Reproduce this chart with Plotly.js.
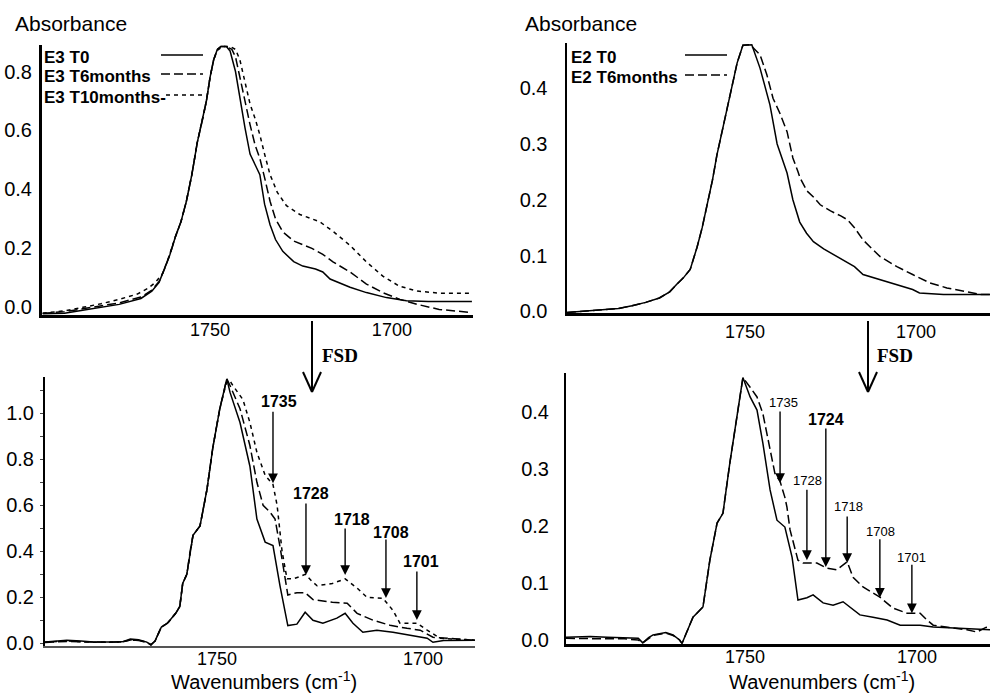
<!DOCTYPE html>
<html>
<head>
<meta charset="utf-8">
<script src="https://cdn.plot.ly/plotly-3.0.1.min.js"></script>
<style>html,body{margin:0;padding:0;background:#fff;}#chart{width:990px;height:694px;}</style>
</head>
<body>
<div id="chart"></div>
<script>
// ---------------- DATA (wavenumber cm-1 / absorbance) ----------------
// Top-left: E3 original spectra
const e3T0_x  = [1796,1790,1785,1780,1775,1769,1766,1764,1762.5,1761,1759.5,1758,1756.5,1755,1753.5,1752,1751,1750,1749,1748,1747,1745.5,1744.5,1743,1741.8,1740.4,1739,1737.5,1736.3,1735,1733.5,1732,1730,1727,1724.5,1721,1719,1717,1714,1711.5,1707,1701.5,1696,1690,1678];
const e3T0_y  = [-0.022,-0.02,-0.01,0.0,0.01,0.03,0.055,0.085,0.13,0.18,0.24,0.29,0.36,0.45,0.56,0.64,0.70,0.78,0.84,0.875,0.885,0.885,0.87,0.80,0.71,0.61,0.52,0.48,0.45,0.35,0.28,0.23,0.19,0.155,0.14,0.13,0.12,0.096,0.08,0.068,0.05,0.033,0.022,0.02,0.02];
const e3T6_x  = [1796,1790,1785,1780,1775,1769,1766,1764,1762.5,1761,1759.5,1758,1756.5,1755,1753.5,1752,1751,1750,1749,1748,1747,1745.5,1744,1743,1741.8,1740.4,1739,1737.6,1736.3,1735,1733.5,1732,1730,1727,1725,1722,1719,1716.2,1711.5,1707,1702.5,1697.8,1693,1687,1678];
const e3T6_y  = [-0.02,-0.015,-0.005,0.005,0.015,0.035,0.058,0.088,0.13,0.18,0.24,0.29,0.36,0.45,0.56,0.64,0.70,0.78,0.84,0.875,0.885,0.885,0.875,0.85,0.78,0.70,0.62,0.55,0.505,0.44,0.36,0.30,0.256,0.225,0.215,0.20,0.18,0.154,0.12,0.079,0.05,0.027,0.01,-0.007,-0.018];
const e3T10_x = [1796,1790,1785,1780,1775,1770,1767,1765,1763,1761.5,1759.5,1758,1756.5,1755,1753.5,1752,1751,1750,1749,1748,1746.5,1744.5,1743,1741.8,1740.4,1739,1737.6,1736.3,1735,1733.5,1731.5,1729,1725.3,1722,1719.8,1716,1711.5,1707,1702.5,1698,1693,1687,1678];
const e3T10_y = [-0.02,-0.012,0.0,0.012,0.027,0.045,0.065,0.085,0.115,0.165,0.24,0.29,0.36,0.45,0.56,0.64,0.70,0.78,0.84,0.872,0.885,0.885,0.875,0.84,0.77,0.69,0.64,0.585,0.52,0.45,0.39,0.345,0.315,0.30,0.29,0.256,0.21,0.154,0.106,0.072,0.055,0.048,0.048];

// Top-right: E2 original spectra
const e2T0_x = [1802,1797,1792,1787,1783,1779,1775,1772,1770,1768,1766,1764,1762.5,1761,1759.5,1758.2,1756.4,1754.4,1752.3,1750.6,1748,1745.6,1742.7,1740.6,1739.5,1737.7,1736,1734,1732,1730,1727,1725,1722,1720,1718,1715.5,1710.5,1705.6,1701,1699,1692,1678.4];
const e2T0_y = [-0.002,0.0,0.002,0.005,0.01,0.016,0.024,0.035,0.048,0.06,0.075,0.115,0.15,0.19,0.235,0.28,0.33,0.385,0.445,0.477,0.478,0.436,0.37,0.30,0.28,0.248,0.2,0.16,0.14,0.125,0.112,0.105,0.095,0.087,0.08,0.066,0.057,0.048,0.039,0.033,0.03,0.03];
const e2T6_x = [1802,1797,1792,1787,1783,1779,1775,1772,1770,1768,1766,1764,1762.5,1761,1759.5,1758.2,1756.4,1754.4,1752.3,1750.6,1748.5,1745.6,1743.6,1741.8,1739.8,1737.7,1736,1734.5,1733.9,1731.9,1730,1728,1725,1722,1720,1718,1715.5,1710.5,1705.6,1701,1696,1691,1686,1681,1678.4];
const e2T6_y = [-0.002,0.0,0.002,0.005,0.01,0.016,0.024,0.035,0.048,0.06,0.075,0.115,0.15,0.19,0.235,0.28,0.33,0.385,0.445,0.477,0.478,0.46,0.424,0.382,0.355,0.322,0.275,0.25,0.239,0.216,0.205,0.191,0.18,0.171,0.164,0.15,0.128,0.098,0.08,0.066,0.051,0.042,0.036,0.03,0.03];

// Bottom-left: E3 after FSD
const fE3T0_x  = [1791.7,1789,1786.4,1783,1780,1776,1773,1771,1769,1767,1766,1765,1763.5,1762,1760,1759,1758.3,1757.3,1756.5,1755.8,1754.1,1752.4,1751,1749.3,1747.6,1746.8,1744.4,1742,1740.3,1738.3,1736.4,1734.7,1732.8,1730.6,1728.6,1726.7,1724.3,1720.9,1718.9,1717,1714.6,1711.2,1707.3,1703.2,1699,1697.6,1695,1687.4];
const fE3T0_y  = [0.005,0.008,0.013,0.01,0.005,0.005,0.006,0.018,0.015,0.005,-0.008,0.01,0.07,0.087,0.13,0.16,0.26,0.30,0.40,0.47,0.51,0.67,0.85,1.02,1.15,1.09,0.96,0.77,0.54,0.44,0.425,0.25,0.077,0.083,0.135,0.10,0.087,0.109,0.13,0.087,0.048,0.057,0.048,0.035,0.022,0.004,0.012,0.013];
const fE3T6_x  = [1791.7,1789,1786.4,1783,1780,1776,1773,1771,1769,1767,1766,1765,1763.5,1762,1760,1759,1758.3,1757.3,1756.5,1755.8,1754.1,1752.4,1751,1749.3,1747.6,1746.8,1744.4,1742,1740.3,1738.8,1737.1,1735.9,1734.7,1734,1732.8,1730.6,1728.6,1726.7,1725.7,1722,1718.4,1716,1712.1,1708,1703.9,1700.7,1697.6,1687.4];
const fE3T6_y  = [0.003,0.005,0.008,0.006,0.004,0.004,0.006,0.014,0.012,0.004,-0.006,0.01,0.07,0.087,0.13,0.16,0.26,0.30,0.40,0.47,0.51,0.67,0.85,1.02,1.15,1.12,1.02,0.86,0.70,0.60,0.57,0.54,0.42,0.34,0.21,0.22,0.22,0.19,0.187,0.178,0.174,0.13,0.10,0.078,0.065,0.057,0.026,0.013];
const fE3T10_x = [1791.7,1789,1786.4,1783,1780,1776,1773,1771,1769,1767,1766,1765,1763.5,1762,1760,1759,1758.3,1757.3,1756.5,1755.8,1754.1,1752.4,1751,1749.3,1747.6,1746.8,1746.1,1743.7,1742,1740.3,1738.3,1736.4,1735.4,1734.2,1733,1731.6,1729.9,1728.6,1726.7,1725.7,1722,1718.9,1716,1713.6,1709.7,1707.3,1705.6,1701.5,1699,1695.9,1687.4];
const fE3T10_y = [0.004,0.006,0.01,0.007,0.004,0.004,0.006,0.014,0.012,0.004,-0.006,0.01,0.07,0.087,0.13,0.16,0.26,0.30,0.40,0.47,0.51,0.67,0.85,1.02,1.14,1.14,1.12,1.06,0.96,0.83,0.73,0.69,0.60,0.40,0.28,0.28,0.29,0.30,0.265,0.25,0.26,0.28,0.24,0.20,0.195,0.143,0.087,0.087,0.057,0.022,0.013];

// Bottom-right: E2 after FSD
const fE2T0_x = [1802,1795,1790,1785,1781,1779.7,1778,1776.7,1773,1770.9,1769,1768.3,1766.5,1765.1,1762.2,1760.2,1758.1,1756.4,1754.4,1752.3,1750.6,1748.5,1746.5,1744.8,1742.7,1740.7,1738.4,1736.3,1734.6,1732,1730.2,1727.3,1724.4,1721.5,1719.5,1716.6,1712.8,1708.7,1704.9,1699.1,1695.3,1689.5,1678.8];
const fE2T0_y = [0.005,0.006,0.005,0.004,0.003,-0.005,0.004,0.009,0.013,0.009,0.0,-0.006,0.02,0.04,0.058,0.14,0.205,0.222,0.31,0.397,0.46,0.426,0.403,0.345,0.263,0.21,0.198,0.145,0.07,0.074,0.079,0.065,0.061,0.067,0.058,0.044,0.04,0.035,0.026,0.026,0.023,0.021,0.018];
const fE2T6_x = [1802,1795,1790,1785,1781,1779.7,1778,1776.7,1773,1770.9,1769,1768.3,1766.5,1765.1,1762.2,1760.2,1758.1,1756.4,1754.4,1752.3,1750.6,1748.5,1746.5,1744.8,1742.7,1741.3,1739.8,1738.4,1737.8,1736.9,1734.6,1733.1,1729.1,1726.2,1723.3,1720.3,1718.6,1715.7,1710.8,1707,1702.9,1699.1,1697.1,1695.3,1689.5,1685.5,1682.6,1680,1678.8];
const fE2T6_y = [0.003,0.002,0.002,0.002,0.0,-0.005,0.003,0.008,0.012,0.008,0.0,-0.006,0.02,0.04,0.058,0.14,0.205,0.222,0.31,0.397,0.46,0.443,0.426,0.397,0.333,0.292,0.278,0.25,0.233,0.193,0.14,0.135,0.135,0.126,0.123,0.137,0.11,0.093,0.075,0.056,0.047,0.047,0.035,0.026,0.021,0.018,0.014,0.022,0.023];

// Peak markers (label, wavenumber where the arrow points, absorbance at arrow tip)
const e3PeakLabels = ['1735','1728','1718','1708','1701'];
const e3PeakX      = [1736.4,1728.4,1718.9,1709.0,1701.5];
const e3PeakY      = [0.696,0.297,0.297,0.197,0.101];
const e2PeakLabels = ['1735','1728','1724','1718','1708','1701'];
const e2PeakX      = [1739.8,1732.0,1726.5,1720.3,1710.8,1701.5];
const e2PeakY      = [0.275,0.14,0.128,0.135,0.074,0.047];

const xTicks = [1750,1700];
const legendE3 = ['E3 T0','E3 T6months','E3 T10months-'];
const legendE2 = ['E2 T0','E2 T6months'];

// ---------------- STYLE / LAYOUT ----------------
const W = 990, H = 694;
const PX = p => p / W, PY = p => 1 - p / H;
const FONT = 'Liberation Sans, Arial, sans-serif';
const SOLID = 'solid', LONG = '9px,4px', SHORT = '4px,4px';

function tr(x, y, xa, ya, dash) {
  return {x: x, y: y, xaxis: xa, yaxis: ya, type: 'scatter', mode: 'lines',
          line: {color: '#000', width: 1.5, dash: dash}, hoverinfo: 'skip'};
}
const data = [
  tr(e3T0_x, e3T0_y, 'x', 'y', SOLID),
  tr(e3T6_x, e3T6_y, 'x', 'y', LONG),
  tr(e3T10_x, e3T10_y, 'x', 'y', SHORT),
  tr(e2T0_x, e2T0_y, 'x2', 'y2', SOLID),
  tr(e2T6_x, e2T6_y, 'x2', 'y2', LONG),
  tr(fE3T0_x, fE3T0_y, 'x3', 'y3', SOLID),
  tr(fE3T6_x, fE3T6_y, 'x3', 'y3', LONG),
  tr(fE3T10_x, fE3T10_y, 'x3', 'y3', SHORT),
  tr(fE2T0_x, fE2T0_y, 'x4', 'y4', SOLID),
  tr(fE2T6_x, fE2T6_y, 'x4', 'y4', LONG)
];

function xax(dom, range, anchor, lw, stand, color) {
  return {domain: dom, range: range, anchor: anchor, tickvals: xTicks, showline: true,
          linewidth: lw, linecolor: color || '#000', ticks: '', showgrid: false, zeroline: false,
          tickfont: {size: 18, family: FONT, color: '#000'}, ticklabelstandoff: stand, fixedrange: true};
}
function yax(dom, range, anchor, lw, tickvals, stand, extra) {
  const o = {domain: dom, range: range, anchor: anchor, tickvals: tickvals, tickformat: '.1f',
          showline: true, linewidth: lw, linecolor: '#000', ticks: '', showgrid: false, zeroline: false,
          tickfont: {size: 20, family: FONT, color: '#000'}, ticklabelstandoff: stand, fixedrange: true};
  return Object.assign(o, extra || {});
}

const annotations = [];
const shapes = [];

function txt(px, py, text, size, opts) {
  annotations.push(Object.assign({xref: 'paper', yref: 'paper', x: PX(px), y: PY(py), text: text,
    xanchor: 'center', yanchor: 'middle',
    showarrow: false, font: {size: size, family: FONT, color: '#000'}}, opts || {}));
}
// axis titles
txt(71, 23, 'Absorbance', 21);
txt(581, 23, 'Absorbance', 21);
txt(264, 680, 'Wavenumbers (cm<sup>-1</sup>)', 20);
txt(822, 680, 'Wavenumbers (cm<sup>-1</sup>)', 20);

// legends (text left, line sample right)
const legE3Y = [57, 76, 97];
const legE3Dash = [SOLID, LONG, SHORT];
legendE3.forEach((t, i) => {
  txt(42, legE3Y[i], '<b>' + t + '</b>', 17, {xanchor: 'left'});
  shapes.push({type: 'line', xref: 'paper', yref: 'paper', x0: PX(i === 2 ? 166 : 161), x1: PX(203),
    y0: PY(legE3Y[i] - 2), y1: PY(legE3Y[i] - 2), line: {color: '#000', width: 1.5, dash: legE3Dash[i]}});
});
const legE2Y = [57, 77];
const legE2Dash = [SOLID, LONG];
legendE2.forEach((t, i) => {
  txt(569, legE2Y[i], '<b>' + t + '</b>', 17, {xanchor: 'left'});
  shapes.push({type: 'line', xref: 'paper', yref: 'paper', x0: PX(685), x1: PX(727),
    y0: PY(legE2Y[i] - 2), y1: PY(legE2Y[i] - 2), line: {color: '#000', width: 1.5, dash: legE2Dash[i]}});
});

// FSD arrows (open head)
function fsd(px, tx) {
  const L = {color: '#000', width: 2};
  shapes.push({type: 'line', xref: 'paper', yref: 'paper', x0: PX(px), x1: PX(px), y0: PY(321), y1: PY(391), line: L});
  shapes.push({type: 'line', xref: 'paper', yref: 'paper', x0: PX(px - 9), x1: PX(px), y0: PY(372), y1: PY(392), line: L});
  shapes.push({type: 'line', xref: 'paper', yref: 'paper', x0: PX(px + 9), x1: PX(px), y0: PY(372), y1: PY(392), line: L});
  annotations.push({xref: 'paper', yref: 'paper', x: PX(tx), y: PY(355), text: '<b>FSD</b>', showarrow: false,
    xanchor: 'left', yanchor: 'middle', font: {size: 19, family: 'Liberation Serif, Times New Roman, serif', color: '#000'}});
}
fsd(312, 320);
fsd(868, 875);

// peak arrows: pixel placement of the tail and label relative to the tip
const e3ArrowStyle = [
  {ay: -73, dx: 6, dy: 82}, {ay: -73, dx: 5, dy: 81}, {ay: -48, dx: 7, dy: 55},
  {ay: -60, dx: 5, dy: 65}, {ay: -50, dx: 4, dy: 59}];
const e2ArrowStyle = [
  {ay: -73, dx: 3, dy: 81, bold: false}, {ay: -72, dx: 1, dy: 80, bold: false},
  {ay: -140, dx: 0, dy: 147, bold: true}, {ay: -48, dx: 1, dy: 56, bold: false},
  {ay: -60, dx: 1, dy: 66, bold: false}, {ay: -50, dx: 0, dy: 56, bold: false}];

function peakArrows(labels, xs, ys, styles, xa, ya, allBold) {
  labels.forEach((lab, i) => {
    const s = styles[i];
    annotations.push({xref: xa, yref: ya, x: xs[i], y: ys[i], ax: 0, ay: s.ay, axref: 'pixel', ayref: 'pixel',
      text: '', showarrow: true, arrowhead: 2, arrowsize: 1.4, arrowwidth: 1.4, arrowcolor: '#000', standoff: 0});
    const bold = allBold || s.bold;
    annotations.push({xref: xa, yref: ya, x: xs[i], y: ys[i], xshift: s.dx, yshift: s.dy,
      xanchor: 'center', yanchor: 'middle',
      text: bold ? '<b>' + lab + '</b>' : lab, showarrow: false,
      font: {size: bold ? 16 : 13, family: FONT, color: '#000'}});
  });
}
peakArrows(e3PeakLabels, e3PeakX, e3PeakY, e3ArrowStyle, 'x3', 'y3', true);
peakArrows(e2PeakLabels, e2PeakX, e2PeakY, e2ArrowStyle, 'x4', 'y4', false);

const layout = {
  width: W, height: H, margin: {l: 0, r: 0, t: 0, b: 0},
  paper_bgcolor: '#fff', plot_bgcolor: '#fff', showlegend: false,
  font: {family: FONT, color: '#000'},
  xaxis:  xax([PX(42), PX(473)], [1796.2, 1677.7], 'y', 2.5, -3),
  yaxis:  yax([PY(315), PY(45)], [-0.026, 0.89], 'x', 3, [0, 0.2, 0.4, 0.6, 0.8], 3),
  xaxis2: xax([PX(567), 1], [1802, 1678.4], 'y2', 2.5, 1),
  yaxis2: yax([PY(313), PY(43)], [-0.003, 0.481], 'x2', 2.5, [0, 0.1, 0.2, 0.3, 0.4], 13),
  xaxis3: xax([PX(45), PX(475)], [1791.7, 1687.4], 'y3', 2, -5, '#555'),
  yaxis3: yax([PY(646), PY(377)], [-0.012, 1.158], 'x3', 2, [0, 0.2, 0.4, 0.6, 0.8, 1.0], 2,
              {ticks: 'outside', ticklen: 3, tickwidth: 1, minor: {dtick: 0.1, ticks: 'outside', ticklen: 3, tickwidth: 1, showgrid: false}}),
  xaxis4: xax([PX(566), 1], [1802, 1678.8], 'y4', 2.5, -5),
  yaxis4: yax([PY(644), PY(373)], [-0.007, 0.468], 'x4', 2, [0, 0.1, 0.2, 0.3, 0.4], 11),
  annotations: annotations,
  shapes: shapes
};

Plotly.newPlot('chart', data, layout, {staticPlot: true, displayModeBar: false});
</script>
</body>
</html>
